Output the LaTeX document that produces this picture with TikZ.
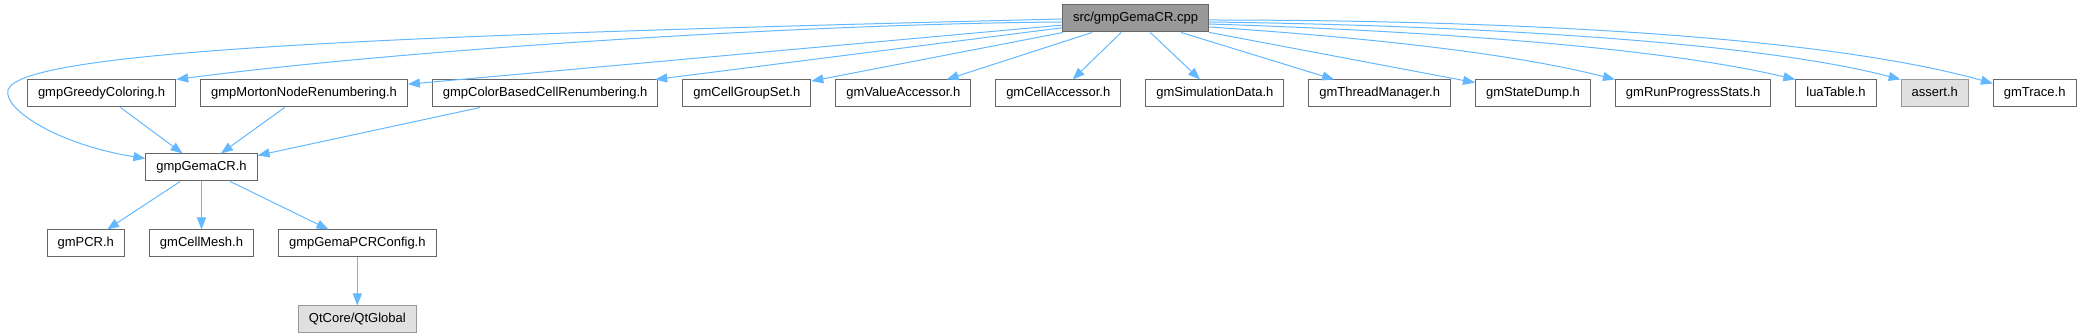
\documentclass[tikz,border=0pt]{standalone}
\usepackage{fontspec}
\setmainfont{Liberation Sans}
\usepackage{xcolor}
\usetikzlibrary{arrows.meta,positioning}
\definecolor{edgeblue}{HTML}{63B8FF}
\definecolor{boxline}{HTML}{666666}
\definecolor{mainfill}{HTML}{999999}
\definecolor{extfill}{HTML}{E0E0E0}
\definecolor{extline}{HTML}{999999}
\begin{document}
\begin{tikzpicture}[x=1pt, y=-1pt, node distance=48pt and 24pt, every node/.style={font=\fontsize{13}{15}\selectfont}, box/.style={draw=boxline,fill=white,line width=1pt,minimum height=27pt,text height=10pt,text depth=3pt,inner xsep=10.5pt,inner ysep=0pt}, mainbox/.style={box,fill=mainfill}, extbox/.style={box,draw=extline,fill=extfill}, arr/.style={-{Triangle[length=12pt,width=9pt]},draw=edgeblue,line width=1pt}]
\useasboundingbox (0,0) rectangle (2080,336);
\node[mainbox] (cpp) at (1135.5,18.5) {src/gmpGemaCR.cpp};
\node[box,anchor=west] (greedy) at (27,93.5) {gmpGreedyColoring.h};
\node[box,right=of greedy] (morton) {gmpMortonNodeRenumbering.h};
\node[box,right=of morton] (colorbased) {gmpColorBasedCellRenumbering.h};
\node[box,right=of colorbased] (groupset) {gmCellGroupSet.h};
\node[box,right=of groupset] (valueacc) {gmValueAccessor.h};
\node[box,right=of valueacc] (cellacc) {gmCellAccessor.h};
\node[box,right=of cellacc] (simdata) {gmSimulationData.h};
\node[box,right=of simdata] (threadmgr) {gmThreadManager.h};
\node[box,right=of threadmgr] (statedump) {gmStateDump.h};
\node[box,right=of statedump] (runstats) {gmRunProgressStats.h};
\node[box,right=of runstats] (luatable) {luaTable.h};
\node[extbox,right=of luatable] (assert) {assert.h};
\node[box,right=of assert] (trace) {gmTrace.h};
\node[box] (gemacr) at (201.5,167.5) {gmpGemaCR.h};
\node[box,below=of gemacr] (cellmesh) {gmCellMesh.h};
\node[box,left=of cellmesh] (pcr) {gmPCR.h};
\node[box,right=of cellmesh] (pcrconfig) {gmpGemaPCRConfig.h};
\node[extbox,below=of pcrconfig] (qtglobal) {QtCore/QtGlobal};
\draw[arr] ([yshift=-0.5pt]cpp.west) .. controls (400,35) and (20,50) .. (8,90) .. controls (3,110) and (60,145) .. ([yshift=9pt]gemacr.west);
\draw[arr] ([yshift=-3.5pt]cpp.west) .. controls (800,24) and (400,50) .. (greedy.north east);
\draw[arr] (cpp)--(morton); \draw[arr] (cpp)--(colorbased); \draw[arr] (cpp)--(groupset); \draw[arr] (cpp)--(valueacc);
\draw[arr] (cpp)--(cellacc); \draw[arr] (cpp)--(simdata); \draw[arr] (cpp)--(threadmgr); \draw[arr] (cpp)--(statedump);
\draw[arr] ([yshift=-8.5pt]cpp.east) .. controls (1330,35) and (1500,50) .. (runstats.north west);
\draw[arr] ([yshift=-5.5pt]cpp.east) .. controls (1400,30) and (1650,45) .. (luatable.north west);
\draw[arr] ([yshift=-3.5pt]cpp.east) .. controls (1450,25) and (1750,40) .. (assert.north west);
\draw[arr] ([yshift=-1.5pt]cpp.east) .. controls (1500,20) and (1820,35) .. ([yshift=-4pt]trace.north west);
\draw[arr] (greedy)--(gemacr); \draw[arr] (morton)--(gemacr); \draw[arr] (colorbased)--(gemacr);
\draw[arr] (gemacr)--(pcr); \draw[arr] (gemacr)--(cellmesh); \draw[arr] (gemacr)--(pcrconfig); \draw[arr] (pcrconfig)--(qtglobal);
\end{tikzpicture}
\end{document}
